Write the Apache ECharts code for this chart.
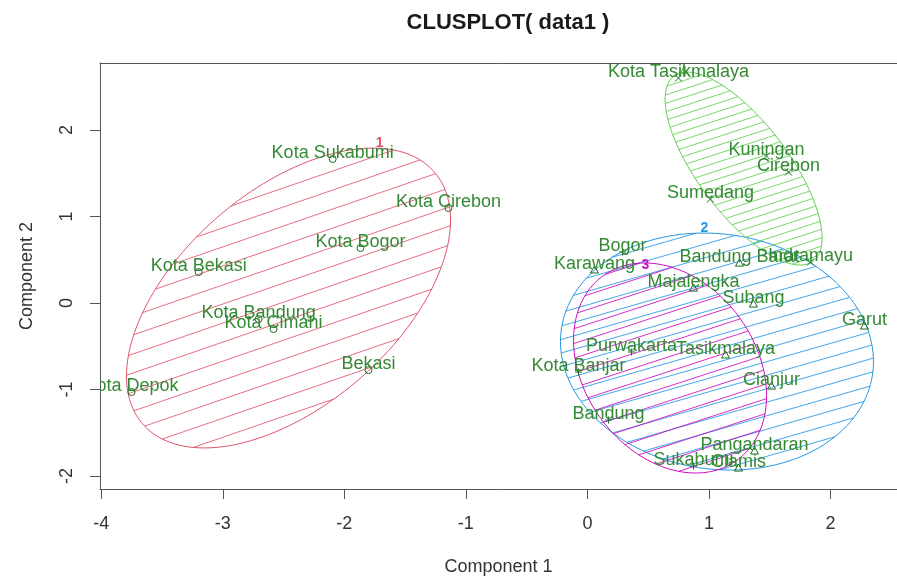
<!DOCTYPE html>
<html>
<head>
<meta charset="utf-8">
<script src="https://cdn.jsdelivr.net/npm/echarts@6/dist/echarts.min.js"></script>
<style>
html, body { margin: 0; padding: 0; background: #ffffff; }
#chart { width: 897px; height: 582px; }
</style>
</head>
<body>
<div id="chart"></div>
<script>
// Regencies and cities of West Java projected on the first two components
const names = [
  'Kota Sukabumi', 'Kota Cirebon', 'Kota Bogor', 'Kota Bekasi', 'Kota Bandung',
  'Kota Cimahi', 'Bekasi', 'Kota Depok',
  'Kota Tasikmalaya', 'Kuningan', 'Cirebon', 'Sumedang', 'Indramayu',
  'Karawang', 'Bandung Barat', 'Majalengka', 'Subang', 'Garut', 'Tasikmalaya',
  'Cianjur', 'Pangandaran', 'Ciamis',
  'Bogor', 'Purwakarta', 'Kota Banjar', 'Bandung', 'Sukabumi'
];
const comp1 = [
  -2.096, -1.143, -1.867, -3.198, -2.705,
  -2.582, -1.801, -3.751,
  0.749, 1.473, 1.654, 1.012, 1.836,
  0.058, 1.251, 0.873, 1.366, 2.279, 1.136,
  1.515, 1.375, 1.243,
  0.289, 0.362, -0.073, 0.174, 0.873
];
const comp2 = [
  1.665, 1.098, 0.636, 0.358, -0.185,
  -0.301, -0.775, -1.029,
  2.601, 1.699, 1.514, 1.202, 0.474,
  0.382, 0.462, 0.173, -0.012, -0.266, -0.601,
  -0.960, -1.711, -1.908,
  0.590, -0.566, -0.798, -1.353, -1.884
];
const cluster = [
  1, 1, 1, 1, 1, 1, 1, 1,
  4, 4, 4, 4, 4,
  2, 2, 2, 2, 2, 2, 2, 2, 2,
  3, 3, 3, 3, 3
];

// Spanning ellipse of each cluster: centre plus two conjugate semi-axis vectors
const clusterIds = ['1', '2', '3', '4'];
const ellipseCx = [-2.459, 1.066, 0.680, 1.285];
const ellipseCy = [0.058, -0.561, -0.751, 1.555];
const ellipseAx = [1.333, 1.2875, 0.794, 0.646];
const ellipseAy = [0.902, -0.1156, -0.321, -0.803];
const ellipseBx = [0, 0, 0, 0];
const ellipseBy = [-1.480, 1.365, 1.171, 0.7746];

// Where each cluster number is written
const clusterLabelX = [-1.709, 0.963, 0.478, 0.790];
const clusterLabelY = [1.850, 0.867, 0.439, 2.670];

const xTicks = [-4, -3, -2, -1, 0, 1, 2];
const yTicks = [-2, -1, 0, 1, 2];

// ---- styling ----
const clusterColors = ['#DF536B', '#2297E6', '#CD0BBC', '#61D04F'];
const hatchAngle = [19, 16, 18, 18];   // degrees, rising to the right
const hatchGap = [18, 13, 14, 8];      // px between shading lines
const pointColor = '#1d6b1d';
const labelColor = '#348a34';
const frameColor = '#555555';
const fontFamily = '"Liberation Sans", Arial, Helvetica, sans-serif';

function ellipsePixels(i, api) {
  const pts = [];
  const n = 160;
  for (let k = 0; k < n; k++) {
    const t = 2 * Math.PI * k / n;
    const dx = ellipseAx[i] * Math.cos(t) + ellipseBx[i] * Math.sin(t);
    const dy = ellipseAy[i] * Math.cos(t) + ellipseBy[i] * Math.sin(t);
    pts.push(api.coord([ellipseCx[i] + dx, ellipseCy[i] + dy]));
  }
  return pts;
}

// Outline plus parallel shading lines clipped to the ellipse
function renderEllipse(params, api) {
  const i = params.dataIndex;
  const pts = ellipsePixels(i, api);
  const color = clusterColors[i];
  const th = hatchAngle[i] * Math.PI / 180;
  const nx = Math.sin(th), ny = Math.cos(th);
  const proj = pts.map(p => p[0] * nx + p[1] * ny);
  const lo = Math.min.apply(null, proj), hi = Math.max.apply(null, proj);
  const gap = hatchGap[i];
  const children = [];
  for (let c = Math.ceil(lo / gap) * gap; c < hi; c += gap) {
    const hits = [];
    for (let k = 0; k < pts.length; k++) {
      const k2 = (k + 1) % pts.length;
      const pa = proj[k] - c, pb = proj[k2] - c;
      if ((pa < 0) !== (pb < 0)) {
        const s = pa / (pa - pb);
        hits.push([pts[k][0] + s * (pts[k2][0] - pts[k][0]),
                   pts[k][1] + s * (pts[k2][1] - pts[k][1])]);
      }
    }
    if (hits.length >= 2) {
      children.push({
        type: 'line',
        shape: { x1: hits[0][0], y1: hits[0][1], x2: hits[1][0], y2: hits[1][1] },
        style: { stroke: color, lineWidth: 1, opacity: 0.85 }
      });
    }
  }
  children.push({
    type: 'polygon',
    shape: { points: pts },
    style: { fill: 'none', stroke: color, lineWidth: 1 }
  });
  return { type: 'group', children: children };
}

function markerShape(kind, x, y) {
  const r = 3.5;
  const st = { stroke: pointColor, lineWidth: 1, fill: 'none' };
  if (kind === 1) {
    return [{ type: 'circle', shape: { cx: x, cy: y, r: r }, style: st }];
  }
  if (kind === 2) {
    return [{ type: 'polygon', shape: { points: [[x, y - r - 0.5], [x - r - 0.5, y + r - 0.5], [x + r + 0.5, y + r - 0.5]] }, style: st }];
  }
  if (kind === 3) {
    return [
      { type: 'line', shape: { x1: x - r, y1: y, x2: x + r, y2: y }, style: st },
      { type: 'line', shape: { x1: x, y1: y - r, x2: x, y2: y + r }, style: st }
    ];
  }
  return [
    { type: 'line', shape: { x1: x - r, y1: y - r, x2: x + r, y2: y + r }, style: st },
    { type: 'line', shape: { x1: x - r, y1: y + r, x2: x + r, y2: y - r }, style: st }
  ];
}

function renderPoint(params, api) {
  const p = api.coord([api.value(0), api.value(1)]);
  const kind = api.value(2);
  const children = markerShape(kind, p[0], p[1]);
  children.push({
    type: 'text',
    style: {
      text: names[params.dataIndex],
      x: p[0], y: p[1] - 6,
      fill: labelColor,
      font: '18px ' + fontFamily,
      align: 'center',
      verticalAlign: 'middle'
    }
  });
  return { type: 'group', children: children };
}

function renderClusterLabel(params, api) {
  const p = api.coord([api.value(0), api.value(1)]);
  return {
    type: 'text',
    style: {
      text: clusterIds[params.dataIndex],
      x: p[0], y: p[1],
      fill: clusterColors[params.dataIndex],
      font: 'bold 14px ' + fontFamily,
      align: 'center',
      verticalAlign: 'middle'
    }
  };
}

const chart = echarts.init(document.getElementById('chart'), null, { renderer: 'canvas' });

const axisText = { color: '#333333', fontSize: 18, fontFamily: fontFamily };

chart.setOption({
  animation: false,
  backgroundColor: '#ffffff',
  title: {
    text: 'CLUSPLOT( data1 )',
    left: 503,
    top: 7,
    textAlign: 'center',
    textStyle: { color: '#1a1a1a', fontSize: 22, fontWeight: 'bold', fontFamily: fontFamily }
  },
  grid: {
    left: 100, top: 63, width: 797, height: 426,
    show: false
  },
  xAxis: [
    {
      type: 'value', min: -4.01, max: 2.547, position: 'bottom',
      name: 'Component 1', nameLocation: 'middle', nameGap: 69,
      nameTextStyle: axisText,
      axisLine: { show: true, onZero: false, lineStyle: { color: frameColor, width: 1 } },
      axisTick: { show: true, length: 10, customValues: xTicks, lineStyle: { color: frameColor } },
      axisLabel: { customValues: xTicks, margin: 26, color: '#333333', fontSize: 18, fontFamily: fontFamily },
      splitLine: { show: false }
    },
    {
      type: 'value', min: -4.01, max: 2.547, position: 'top',
      axisLine: { show: true, onZero: false, lineStyle: { color: frameColor, width: 1 } },
      axisTick: { show: false },
      axisLabel: { show: false },
      splitLine: { show: false }
    }
  ],
  yAxis: {
    type: 'value', min: -2.15, max: 2.775,
    name: 'Component 2', nameLocation: 'middle', nameGap: 64, nameRotate: 90,
    nameTextStyle: axisText,
    axisLine: { show: true, onZero: false, lineStyle: { color: frameColor, width: 1 } },
    axisTick: { show: true, length: 10, customValues: yTicks, lineStyle: { color: frameColor } },
    axisLabel: { customValues: yTicks, rotate: 90, margin: 24, color: '#333333', fontSize: 18, fontFamily: fontFamily },
    splitLine: { show: false }
  },
  series: [
    {
      type: 'custom',
      name: 'ellipses',
      renderItem: renderEllipse,
      clip: true,
      z: 1,
      data: clusterIds.map((id, i) => [ellipseCx[i], ellipseCy[i]])
    },
    {
      type: 'custom',
      name: 'clusterNumbers',
      renderItem: renderClusterLabel,
      clip: true,
      z: 2,
      data: clusterIds.map((id, i) => [clusterLabelX[i], clusterLabelY[i]])
    },
    {
      type: 'custom',
      name: 'units',
      renderItem: renderPoint,
      clip: true,
      z: 3,
      data: names.map((n, i) => [comp1[i], comp2[i], cluster[i]])
    }
  ]
});
</script>
</body>
</html>
